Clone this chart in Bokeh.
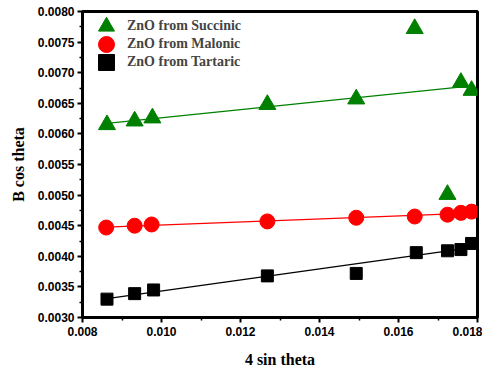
import numpy as np
from bokeh.plotting import figure
from bokeh.models import (Legend, LegendItem, FixedTicker, NumeralTickFormatter, Range1d)
from bokeh.embed import file_html
from bokeh.resources import INLINE

# ---- data ----
succinic_x = [0.00862, 0.00932, 0.00977, 0.01268, 0.01493, 0.01641, 0.01724, 0.01758, 0.01785]
succinic_y = [0.00615, 0.00621, 0.00626, 0.00648, 0.00657, 0.00772, 0.00501, 0.00684, 0.00671]
succinic_in_fit = [True, True, True, True, True, False, False, True, True]

malonic_x = [0.00860, 0.00932, 0.00975, 0.01268, 0.01493, 0.01641, 0.01724, 0.01758, 0.01785]
malonic_y = [0.00447, 0.00450, 0.00452, 0.00457, 0.00463, 0.00465, 0.00468, 0.00471, 0.00473]

tartaric_x = [0.00862, 0.00932, 0.00980, 0.01268, 0.01493, 0.01645, 0.01724, 0.01758, 0.01785]
tartaric_y = [0.00330, 0.00339, 0.00345, 0.00368, 0.00372, 0.00406, 0.00409, 0.00411, 0.00421]

labels = ["ZnO from Succinic", "ZnO from Malonic", "ZnO from Tartaric"]
x_ticks = [0.008, 0.010, 0.012, 0.014, 0.016, 0.018]
x_minor = [0.009, 0.011, 0.013, 0.015, 0.017]
y_ticks = [0.0030, 0.0035, 0.0040, 0.0045, 0.0050, 0.0055, 0.0060, 0.0065, 0.0070, 0.0075, 0.0080]
y_minor = [0.00325, 0.00375, 0.00425, 0.00475, 0.00525, 0.00575, 0.00625, 0.00675, 0.00725, 0.00775]

p = figure(width=482, height=370, output_backend="svg", toolbar_location=None,
           x_range=Range1d(0.008, 0.018), y_range=Range1d(0.0030, 0.0080),
           min_border_left=82, min_border_right=5, min_border_top=11, min_border_bottom=52)
p.xgrid.visible = False
p.ygrid.visible = False
p.outline_line_color = "black"
p.outline_line_width = 3
p.background_fill_color = "white"
p.border_fill_color = "white"

def fit_line(xs, ys, color, mask=None):
    xs = np.asarray(xs); ys = np.asarray(ys)
    m = np.ones(len(xs), bool) if mask is None else np.asarray(mask)
    k, b = np.polyfit(xs[m], ys[m], 1)
    x0, x1 = xs.min(), xs.max()
    p.line([x0, x1], [k * x0 + b, k * x1 + b], line_color=color, line_width=1.3)

fit_line(succinic_x, succinic_y, "#008000", succinic_in_fit)
fit_line(malonic_x, malonic_y, "#ff0000")
fit_line(tartaric_x, tartaric_y, "black")

r1 = p.scatter(succinic_x, succinic_y, marker="triangle", size=17, fill_color="#008000", line_color="#008000")
r2 = p.scatter(malonic_x, malonic_y, marker="circle", size=15, fill_color="#ff0000", line_color="#ff0000")
r3 = p.scatter(tartaric_x, tartaric_y, marker="square", size=12, fill_color="black", line_color="black")

for i, (lab, r) in enumerate(zip(labels, [r1, r2, r3])):
    lg = Legend(items=[LegendItem(label=lab, renderers=[r])],
                location=(4, 271 - 18 * i), glyph_width=40, glyph_height=40,
                padding=0, margin=0, label_standoff=1,
                label_text_font="Liberation Serif", label_text_font_style="bold",
                label_text_font_size="14px", border_line_color=None,
                background_fill_alpha=0)
    p.add_layout(lg, "center")

xa = p.xaxis[0]
xa.ticker = FixedTicker(ticks=x_ticks, minor_ticks=x_minor)
xa.formatter = NumeralTickFormatter(format="0.000")
ya = p.yaxis[0]
ya.ticker = FixedTicker(ticks=y_ticks, minor_ticks=y_minor)
ya.formatter = NumeralTickFormatter(format="0.0000")
for ax in (xa, ya):
    ax.axis_line_width = 3
    ax.major_tick_line_width = 2
    ax.minor_tick_line_width = 1.5
    ax.major_tick_out = 5
    ax.major_tick_in = 0
    ax.minor_tick_out = 3
    ax.minor_tick_in = 0
    ax.major_label_text_font = "Liberation Sans"
    ax.major_label_text_font_style = "bold"
    ax.major_label_text_font_size = "12px"
    ax.major_label_text_color = "black"
    ax.axis_label_text_font = "Liberation Serif"
    ax.axis_label_text_font_style = "bold"
    ax.axis_label_text_font_size = "16px"
    ax.axis_label_text_color = "black"
xa.axis_label = "4 sin theta"
ya.axis_label = "B cos theta"
xa.major_label_standoff = 4
xa.axis_label_standoff = 12
ya.major_label_standoff = 3
ya.axis_label_standoff = 8

open("out.html", "w").write(file_html(p, INLINE))
